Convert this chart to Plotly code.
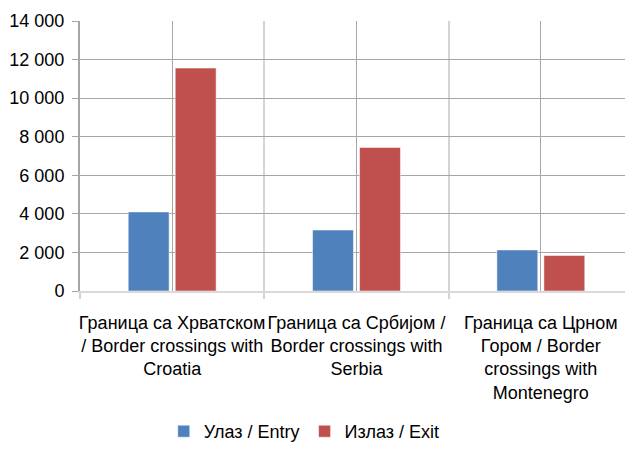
import plotly.graph_objects as go

categories = [
    "Граница са Хрватском<br>/ Border crossings with<br>Croatia",
    "Граница са Србијом /<br>Border crossings with<br>Serbia",
    "Граница са Црном<br>Гором / Border<br>crossings with<br>Montenegro",
]
entry_values = [4100, 3160, 2130]
exit_values = [11560, 7440, 1840]
series_names = ["Улаз / Entry", "Излаз / Exit"]
y_ticks = [0, 2000, 4000, 6000, 8000, 10000, 12000, 14000]

FONT = "Liberation Sans Narrow, Arial Narrow, Liberation Sans, Arial, sans-serif"
FS = 18
positions = list(range(len(categories)))
boundaries = [p - 0.5 for p in positions] + [positions[-1] + 0.5]

fig = go.Figure()
fig.add_trace(go.Bar(
    x=positions, y=entry_values, name=series_names[0],
    marker=dict(color="#4F81BD", line=dict(color="rgba(255,255,255,0.5)", width=1)),
))
fig.add_trace(go.Bar(
    x=positions, y=exit_values, name=series_names[1],
    marker=dict(color="#C0504D", line=dict(color="rgba(255,255,255,0.5)", width=1)),
))

# page body has an 8px default margin, so the figure is sized/offset to compensate
fig.update_layout(
    width=625, height=442,
    margin=dict(l=72, r=0, t=13, b=159, autoexpand=False),
    paper_bgcolor="white", plot_bgcolor="white",
    barmode="group", bargap=0.49, bargroupgap=0.13,
    separators=". ",
    font=dict(family=FONT, size=FS, color="#000000"),
    showlegend=True,
    legend=dict(
        orientation="h", xref="container", x=0.474, xanchor="center",
        yref="container", y=-0.022, yanchor="bottom",
        font=dict(family=FONT, size=FS), itemwidth=30,
        traceorder="normal",
    ),
    xaxis=dict(
        range=[boundaries[0], boundaries[-1]],
        tickvals=positions, ticktext=categories,
        showgrid=True, gridcolor="#A6A6A6", gridwidth=1,
        ticks="", showline=True, linecolor="#D9D9D9", linewidth=2,
        zeroline=False, automargin=False, ticklabelstandoff=14,
        minor=dict(tickvals=boundaries, showgrid=True, gridcolor="#D4D4D4",
                   gridwidth=2, ticks="outside", ticklen=6, tickcolor="#D4D4D4",
                   tickwidth=2),
        tickfont=dict(family=FONT, size=FS),
        fixedrange=True,
    ),
    yaxis=dict(
        range=[0, 14000], tickvals=y_ticks, tickformat=",d",
        showgrid=True, gridcolor="#A6A6A6", gridwidth=1,
        ticks="outside", ticklen=6, tickcolor="#A6A6A6",
        showline=True, linecolor="#A6A6A6", linewidth=2,
        zeroline=False, automargin=False, ticklabelstandoff=4,
        tickfont=dict(family=FONT, size=FS),
        fixedrange=True,
    ),
)

fig.write_html("out.html")
